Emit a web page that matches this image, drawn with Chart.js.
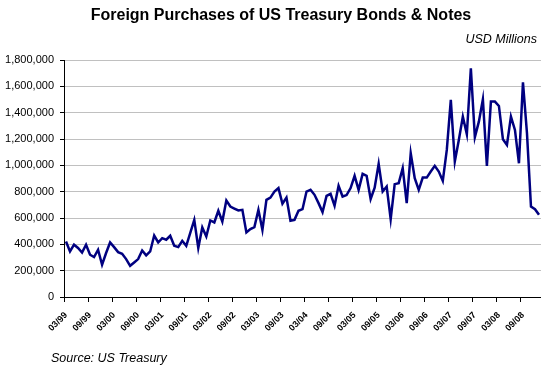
<!DOCTYPE html>
<html><head><meta charset="utf-8">
<script src="https://cdn.jsdelivr.net/npm/chart.js@4/dist/chart.umd.min.js"></script>
<style>html,body{margin:0;padding:0;background:#fff}#wrap{width:541px;height:371px;position:relative}</style>
</head><body><div id="wrap"><canvas id="c" width="541" height="371"></canvas></div>
<script>
const chartTitle = 'Foreign Purchases of US Treasury Bonds & Notes';
const unitsLabel = 'USD Millions';
const sourceLabel = 'Source: US Treasury';

const months = [
'03/99','04/99','05/99','06/99','07/99','08/99','09/99','10/99','11/99','12/99',
'01/00','02/00','03/00','04/00','05/00','06/00','07/00','08/00','09/00','10/00','11/00','12/00',
'01/01','02/01','03/01','04/01','05/01','06/01','07/01','08/01','09/01','10/01','11/01','12/01',
'01/02','02/02','03/02','04/02','05/02','06/02','07/02','08/02','09/02','10/02','11/02','12/02',
'01/03','02/03','03/03','04/03','05/03','06/03','07/03','08/03','09/03','10/03','11/03','12/03',
'01/04','02/04','03/04','04/04','05/04','06/04','07/04','08/04','09/04','10/04','11/04','12/04',
'01/05','02/05','03/05','04/05','05/05','06/05','07/05','08/05','09/05','10/05','11/05','12/05',
'01/06','02/06','03/06','04/06','05/06','06/06','07/06','08/06','09/06','10/06','11/06','12/06',
'01/07','02/07','03/07','04/07','05/07','06/07','07/07','08/07','09/07','10/07','11/07','12/07',
'01/08','02/08','03/08','04/08','05/08','06/08','07/08','08/08','09/08','10/08','11/08','12/08',
'01/09'];

const tickLabels = ['03/99','09/99','03/00','09/00','03/01','09/01','03/02','09/02','03/03','09/03',
'03/04','09/04','03/05','09/05','03/06','09/06','03/07','09/07','03/08','09/08'];

const purchases = [
422000,346000,397000,372000,338000,397000,321000,303000,359000,245000,
334000,414000,379000,341000,328000,288000,237000,262000,288000,353000,
316000,346000,467000,414000,447000,435000,465000,389000,379000,427000,
389000,487000,586000,372000,528000,460000,581000,566000,655000,573000,
733000,687000,672000,657000,662000,490000,516000,531000,662000,510000,
738000,755000,801000,827000,708000,755000,579000,586000,655000,667000,
801000,814000,776000,713000,645000,768000,784000,693000,844000,763000,
774000,827000,920000,814000,935000,920000,744000,830000,1011000,801000,
839000,592000,857000,865000,978000,713000,1092000,903000,814000,907000,
907000,953000,996000,953000,882000,1117000,1497000,1029000,1193000,1370000,
1236000,1737000,1214000,1332000,1502000,996000,1484000,1484000,1451000,1198000,
1155000,1370000,1269000,1016000,1631000,1244000,687000,667000,624000];

const yTicks = [0,200000,400000,600000,800000,1000000,1200000,1400000,1600000,1800000];

const FONT = '"Liberation Sans", Arial, sans-serif';

const textPlugin = {
  id: 'texts',
  afterDraw(chart) {
    const ctx = chart.ctx;
    ctx.save();
    ctx.fillStyle = '#000';
    ctx.textBaseline = 'middle';
    ctx.font = 'bold 16px ' + FONT;
    ctx.textAlign = 'center';
    ctx.fillText(chartTitle, 281, 16);
    ctx.font = 'italic 12.5px ' + FONT;
    ctx.textAlign = 'right';
    ctx.fillText(unitsLabel, 537, 40);
    ctx.textAlign = 'left';
    ctx.fillText(sourceLabel, 51, 359);
    ctx.restore();
  }
};

new Chart(document.getElementById('c'), {
  type: 'line',
  data: {
    labels: months,
    datasets: [{
      data: purchases,
      borderColor: '#000080',
      borderWidth: 2.5,
      pointRadius: 0,
      tension: 0,
      fill: false
    }]
  },
  options: {
    responsive: false,
    animation: false,
    layout: { padding: { top: 60, left: 0, right: 0, bottom: 0 } },
    plugins: { legend: { display: false }, tooltip: { enabled: false }, title: { display: false } },
    scales: {
      x: {
        type: 'category',
        offset: true,
        grid: {
          offset: true,
          drawOnChartArea: false,
          tickLength: 5,
          tickColor: (c) => (c.index % 6 === 0 ? '#000' : 'rgba(0,0,0,0)')
        },
        border: { color: '#000', width: 1 },
        ticks: {
          autoSkip: false,
          maxRotation: 45,
          minRotation: 45,
          padding: 8,
          color: '#000',
          font: { family: FONT, size: 9, weight: 'bold' },
          callback: function (v, i) {
            const l = this.getLabelForValue(v);
            return tickLabels.includes(l) ? l : '';
          }
        },
        afterFit: (s) => { s.height = 74; s.paddingRight = 0; s.paddingLeft = 0; }
      },
      y: {
        min: 0,
        max: 1800000,
        afterBuildTicks: (s) => { s.ticks = yTicks.map(v => ({ value: v })); },
        grid: { color: '#c0c0c0', lineWidth: 1, tickLength: 4, tickColor: '#000' },
        border: { color: '#000', width: 1 },
        ticks: {
          padding: 6,
          color: '#000',
          font: { family: FONT, size: 11 },
          callback: (v) => Number(v).toLocaleString('en-US')
        },
        afterFit: (s) => { s.width = 64; }
      }
    }
  },
  plugins: [textPlugin]
});
</script>
</body></html>
